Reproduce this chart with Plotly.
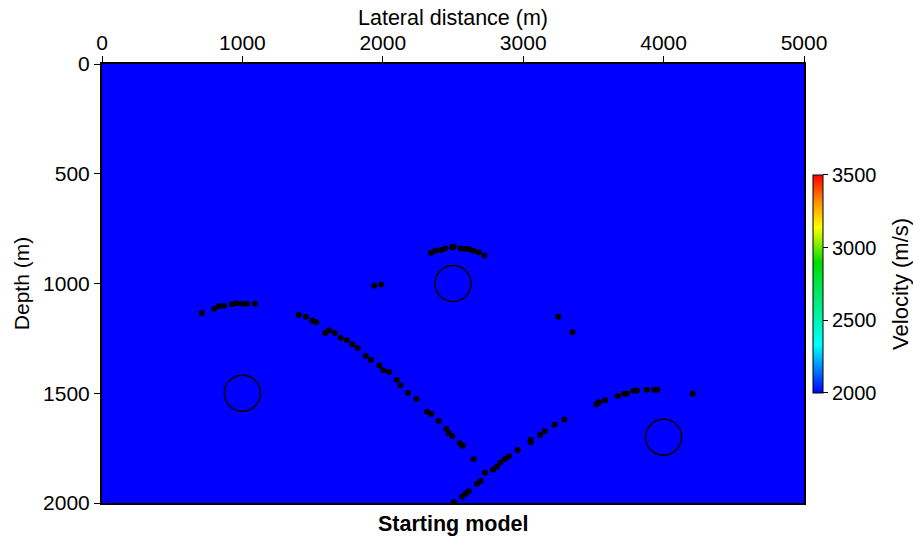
import plotly.graph_objects as go

# Background velocity model (uniform starting model)
X_EDGES = [0, 5000]
Y_EDGES = [0, 2000]
VELOCITY = [[2000]]
V_MIN, V_MAX = 2000, 3500
CB_TICKS = [2000, 2500, 3000, 3500]
X_TICKS = [0, 1000, 2000, 3000, 4000, 5000]
Y_TICKS = [0, 500, 1000, 1500, 2000]

# Circle (scatterer) centres
CIRCLE_X = [1000, 2500, 4000]
CIRCLE_Y = [1500, 1000, 1700]

# Picked points
PTS_X = [712, 798, 831, 867, 924, 959, 997, 1035, 1090,
         1939, 1989,
         1401, 1453, 1498, 1526, 1590, 1615, 1657, 1700, 1743, 1783, 1821, 1878, 1914,
         1975, 2004, 2044, 2099, 2126, 2179, 2239, 2315, 2345, 2398, 2452, 2469, 2495,
         2548, 2569, 2647,
         2505, 2564, 2588, 2612, 2669, 2697, 2728, 2785, 2813, 2837, 2870, 2899, 2961,
         3053, 3053, 3120, 3153, 3224, 3293,
         3250, 3351,
         3521, 3538, 3583, 3673, 3718, 3741, 3786, 3810, 3882, 3932, 3955, 4207,
         2343, 2374, 2415, 2445, 2493, 2507, 2555, 2585, 2614, 2645, 2683, 2723]
PTS_Y = [1134, 1115, 1104, 1101, 1095, 1090, 1092, 1092, 1092,
         1010, 1004,
         1142, 1151, 1168, 1177, 1226, 1213, 1226, 1247, 1259, 1277, 1294, 1330, 1347,
         1374, 1395, 1403, 1438, 1464, 1499, 1526, 1584, 1595, 1626, 1662, 1681, 1695,
         1728, 1739, 1800,
         1995, 1971, 1958, 1947, 1912, 1900, 1862, 1848, 1835, 1815, 1800, 1787, 1759,
         1712, 1723, 1690, 1672, 1643, 1620,
         1151, 1222,
         1550, 1541, 1532, 1513, 1502, 1502, 1489, 1487, 1484, 1484, 1484, 1502,
         860, 851, 847, 841, 835, 832, 840, 843, 843, 851, 858, 872]

FONT = "Liberation Sans, Arial, Helvetica, sans-serif"

colorscale = [[0.0, "rgb(0,0,255)"], [0.22, "rgb(0,255,255)"], [0.6, "rgb(0,220,0)"],
              [0.76, "rgb(255,255,0)"], [0.88, "rgb(255,140,0)"], [1.0, "rgb(255,0,0)"]]

fig = go.Figure()
fig.add_trace(go.Heatmap(
    x=X_EDGES, y=Y_EDGES, z=VELOCITY, zmin=V_MIN, zmax=V_MAX,
    colorscale=colorscale, hoverinfo="skip",
    colorbar=dict(
        x=1.0128, xanchor="left", xpad=0, y=0.499, yanchor="middle", ypad=0,
        len=0.4966, lenmode="fraction", thickness=10,
        outlinewidth=1, outlinecolor="black",
        tickvals=CB_TICKS, ticks="outside", ticklen=5, tickcolor="black",
        tickfont=dict(size=20, color="black", family=FONT),
    ),
))
fig.add_trace(go.Scatter(
    x=PTS_X, y=PTS_Y, mode="markers",
    marker=dict(color="black", size=6), hoverinfo="skip", showlegend=False,
))

for cx, cy in zip(CIRCLE_X, CIRCLE_Y):
    fig.add_shape(type="circle", xref="x", yref="y",
                  xsizemode="pixel", ysizemode="pixel",
                  xanchor=cx, yanchor=cy, x0=-18, x1=18, y0=-18, y1=18,
                  line=dict(color="black", width=1.5))

fig.update_layout(
    width=913, height=540,
    margin=dict(l=102, r=109, t=64, b=37),
    paper_bgcolor="white", plot_bgcolor="white",
    font=dict(family=FONT, size=18, color="black"),
    showlegend=False,
    xaxis=dict(
        side="top", range=[0, 5000], tickvals=X_TICKS, ticks="outside", ticklen=6,
        tickcolor="black", showgrid=False, zeroline=False,
        tickfont=dict(size=21), ticklabelstandoff=-2,
        showline=True, linecolor="black", linewidth=2, mirror=True,
    ),
    yaxis=dict(
        range=[2000, 0], tickvals=Y_TICKS, ticks="outside", ticklen=6,
        tickcolor="black", showgrid=False, zeroline=False,
        tickfont=dict(size=21),
        showline=True, linecolor="black", linewidth=2, mirror=True,
        title=dict(text="Depth (m)", standoff=8, font=dict(size=21)),
    ),
    annotations=[
        dict(text="Lateral distance (m)", xref="paper", yref="paper",
             x=0.5, y=1, xanchor="center", yanchor="middle", yshift=46,
             showarrow=False, font=dict(size=21.5, color="black", family=FONT)),
        dict(text="<b>Starting model</b>", xref="paper", yref="paper",
             x=0.5, y=0, yanchor="top", yshift=-7, showarrow=False,
             font=dict(size=21.5, color="black", family=FONT)),
        dict(text="Velocity (m/s)", xref="paper", yref="paper",
             x=(901 - 102) / 702, y=0.499, xanchor="center", yanchor="middle",
             textangle=-90, showarrow=False,
             font=dict(size=22, color="black", family=FONT)),
    ],
)

fig.write_html("out.html")
